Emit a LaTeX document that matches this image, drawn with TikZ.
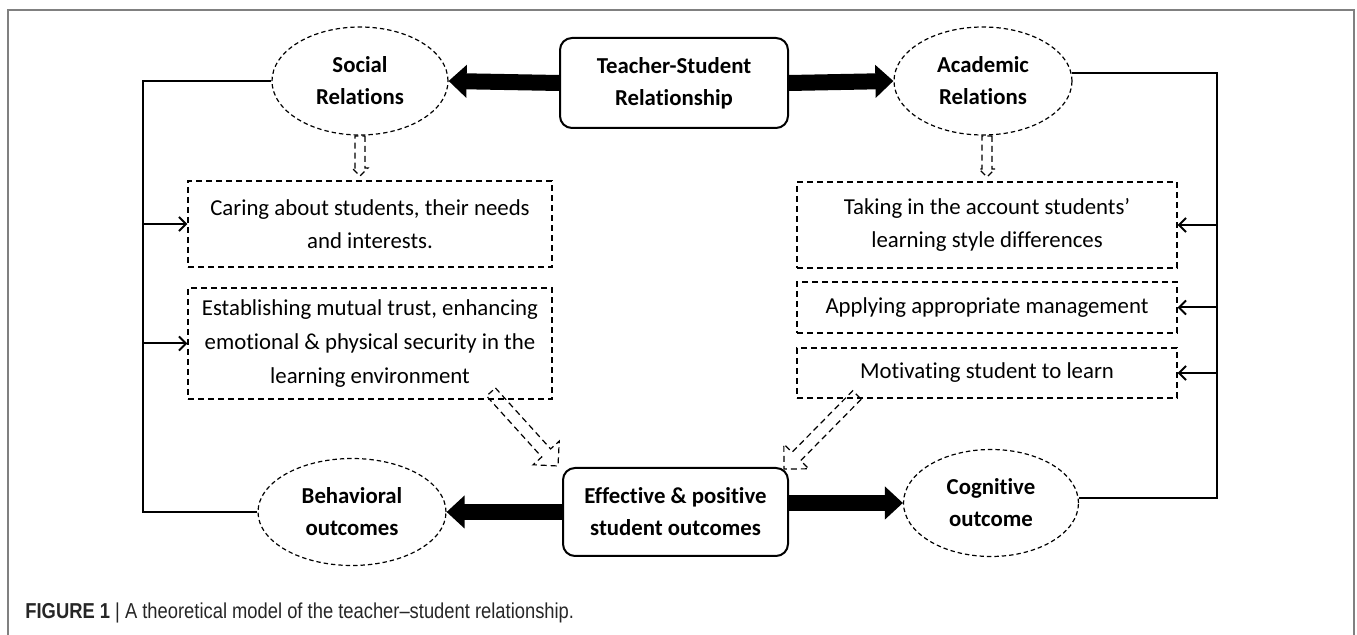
\documentclass[tikz,border=0pt]{standalone}
\usepackage{fontspec}
\setmainfont[Ligatures=NoCommon]{Carlito}
\newfontfamily\capfont[FakeStretch=0.85]{Liberation Sans}
\usetikzlibrary{shapes.geometric,arrows.meta,calc}

\tikzset{
  mainbox/.style={draw, line width=1pt, rounded corners=6pt, align=center,
    font=\bfseries\fontsize{11.4}{16}\selectfont},
  oval/.style={ellipse, draw, line width=0.6pt, dash pattern=on 2.2pt off 1.5pt,
    align=center, inner sep=0pt, font=\bfseries\fontsize{11.4}{16}\selectfont},
  dashbox/.style={draw, line width=0.6pt, dash pattern=on 3pt off 2pt, align=center,
    inner sep=0pt, font=\fontsize{11.4}{16.8}\selectfont},
  hollow/.style={line width=0.6pt, dash pattern=on 3pt off 2pt, line join=miter},
  bigarrow/.style={line width=8pt, -{Triangle[length=9pt,width=16pt]}},
  feed/.style={line width=1pt, -{Straight Barb[length=3.5pt,width=7pt]}},
}

% dashed block arrow: from, to, shaft half width, head half width, head length
\newcommand{\hollowarrow}[5]{%
  \coordinate (hb) at ($(#2)!#5!(#1)$);
  \draw[hollow] ($(#1)!#3!90:(#2)$) -- ($(hb)!#3!90:(#2)$) -- ($(hb)!#4!90:(#2)$)
    -- (#2) -- ($(hb)!#4!-90:(#2)$) -- ($(hb)!#3!-90:(#2)$)
    -- ($(#1)!#3!-90:(#2)$) -- cycle;}

\begin{document}
\begin{tikzpicture}[x=0.5pt,y=-0.5pt]
\useasboundingbox (0,0) rectangle (1357,635);
\draw[black!50, line width=1pt] (8,635) -- (8,10) -- (1354,10) -- (1354,635);

\node[mainbox, minimum width=114pt, minimum height=45pt] (ts) at (674,83) {Teacher-Student\\Relationship};
\node[oval, minimum width=88pt, minimum height=54pt] (social) at (360,81) {Social\\Relations};
\node[oval, minimum width=89pt, minimum height=54pt] (acad) at (983,81) {Academic\\Relations};

\node[dashbox, minimum width=182pt, minimum height=43pt] (care) at (370,224) {Caring about students, their needs\\and interests.};
\node[dashbox, minimum width=182pt, minimum height=55.5pt] (trust) at (370,343.5) {Establishing mutual trust, enhancing\\emotional \& physical security in the\\learning environment};

\node[dashbox, minimum width=190pt, minimum height=43pt] (style) at (987,225) {Taking in the account students’\\learning style differences};
\node[dashbox, minimum width=190pt, minimum height=25.5pt] (manage) at (987,307.5) {Applying appropriate management};
\node[dashbox, minimum width=190pt, minimum height=25pt] (motiv) at (987,373) {Motivating student to learn};

\node[mainbox, minimum width=112.5pt, minimum height=44pt] (eff) at (675.5,512) {Effective \& positive\\student outcomes};
\node[oval, minimum width=94pt, minimum height=53.5pt] (behav) at (352,512) {Behavioral\\outcomes};
\node[oval, minimum width=87.5pt, minimum height=53.5pt] (cog) at (991,503) {Cognitive\\outcome};

% thick arrows
\draw[bigarrow] (ts.west) -- (social.east);
\draw[bigarrow] (ts.east) -- (acad.west);
\draw[bigarrow] (eff.west) -- (behav.east);
\draw[bigarrow] (eff.east |- cog.west) -- (cog.west);

% feedback lines
\coordinate (lbus) at (143,0);
\coordinate (rbus) at (1217,0);
\draw[line width=1pt] (social.west) -- (social.west -| lbus) -- (behav.west -| lbus) -- (behav.west);
\draw[feed] (lbus |- care.west) -- (care.west);
\draw[feed] (lbus |- trust.west) -- (trust.west);
\draw[line width=1pt] (acad.5) -- (acad.5 -| rbus) -- (cog.3 -| rbus) -- (cog.3);
\draw[feed] (rbus |- style.east) -- (style.east);
\draw[feed] (rbus |- manage.east) -- (manage.east);
\draw[feed] (rbus |- motiv.east) -- (motiv.east);

% hollow dashed arrows
\coordinate (s1) at (360,136);
\coordinate (s2) at (360,176);
\coordinate (a1) at (987,136);
\coordinate (a2) at (987,177);
\coordinate (t1) at (491,392);
\coordinate (t2) at (558,466);
\coordinate (m1) at (857,395);
\coordinate (m2) at (784,469);
\hollowarrow{s1}{s2}{2.5pt}{4pt}{4pt}
\hollowarrow{a1}{a2}{2.5pt}{4pt}{4pt}
\hollowarrow{t1}{t2}{3pt}{8.8pt}{8.8pt}
\hollowarrow{m1}{m2}{3pt}{8.8pt}{8.8pt}

\node[anchor=west, font=\capfont\fontsize{10.8}{12}\selectfont, text=black!85, inner sep=0pt] (cap) at (25,613)
  {\textbf{FIGURE 1} | A theoretical model of the teacher–student relationship.};
\end{tikzpicture}
\end{document}
